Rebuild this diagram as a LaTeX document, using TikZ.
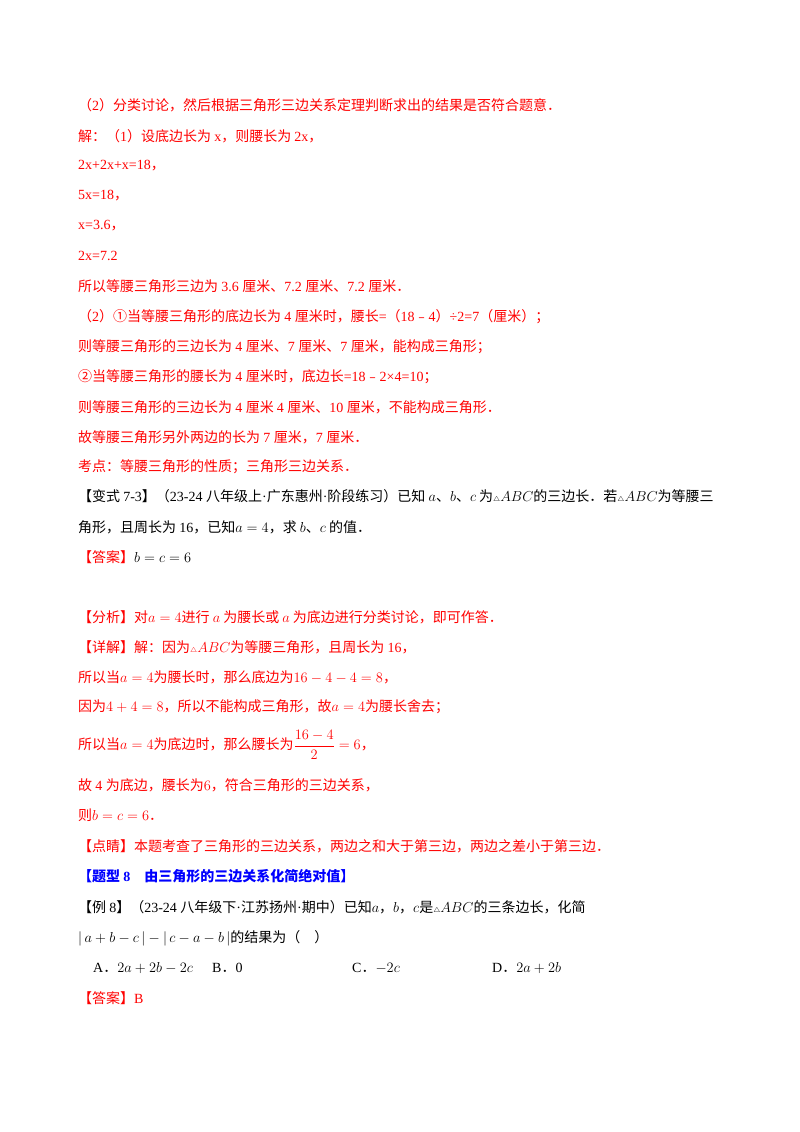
\documentclass[tikz,border=0pt]{standalone}
\usepackage{fontspec}
\setmainfont{Liberation Serif}
\newfontfamily\cjk{Noto Sans CJK SC}
\XeTeXinterchartokenstate=1
\newXeTeXintercharclass\cjkclass
\count255="4E00 \loop \XeTeXcharclass\count255=\cjkclass \ifnum\count255<"9FFF \advance\count255 1 \repeat
\count255="3000 \loop \XeTeXcharclass\count255=\cjkclass \ifnum\count255<"303F \advance\count255 1 \repeat
\count255="FF00 \loop \XeTeXcharclass\count255=\cjkclass \ifnum\count255<"FFEF \advance\count255 1 \repeat
\count255="FE30 \loop \XeTeXcharclass\count255=\cjkclass \ifnum\count255<"FE6F \advance\count255 1 \repeat
\XeTeXcharclass"2460=\cjkclass \XeTeXcharclass"2461=\cjkclass
\XeTeXinterchartoks 0 \cjkclass = {\cjk}
\XeTeXinterchartoks 4095 \cjkclass = {\cjk}
\XeTeXinterchartoks \cjkclass 0 = {\rmfamily}
\XeTeXinterchartoks 4095 0 = {\rmfamily}
\definecolor{rd}{HTML}{FF0000}
\definecolor{bl}{HTML}{0000FF}
\newcommand{\tri}{{\scriptsize$\triangle$}}
\begin{document}
\begin{tikzpicture}[x=1pt,y=-1pt,
  ln/.style={anchor=west,inner sep=0pt,font=\fontsize{14}{16}\selectfont},
  rl/.style={ln,text=rd}]
\useasboundingbox (0,0) rectangle (800,1132);
\fill[white] (0,0) rectangle (800,1132);
\node[rl] (l1) at (78,105) {（2）分类讨论，然后根据三角形三边关系定理判断求出的结果是否符合题意．};
\node[rl] (l2) at (78,136) {解：（1）设底边长为 x，则腰长为 2x，};
\node[rl] (l3) at (78,166) {2x+2x+x=18，};
\node[rl] (l4) at (78,196) {5x=18，};
\node[rl] (l5) at (78,226) {x=3.6，};
\node[rl] (l6) at (78,256) {2x=7.2};
\node[rl] (l7) at (78,286) {所以等腰三角形三边为 3.6 厘米、7.2 厘米、7.2 厘米．};
\node[rl] (l8) at (78,317) {（2）①当等腰三角形的底边长为 4 厘米时，腰长=（18﹣4）÷2=7（厘米）；};
\node[rl] (l9) at (78,347) {则等腰三角形的三边长为 4 厘米、7 厘米、7 厘米，能构成三角形；};
\node[rl] (l10) at (78,377) {②当等腰三角形的腰长为 4 厘米时，底边长=18﹣2×4=10；};
\node[rl] (l11) at (78,407) {则等腰三角形的三边长为 4 厘米 4 厘米、10 厘米，不能构成三角形．};
\node[rl] (l12) at (78,437) {故等腰三角形另外两边的长为 7 厘米，7 厘米．};
\node[rl] (l13) at (78,467) {考点：等腰三角形的性质；三角形三边关系．};
\node[ln] (l14) at (78,496) {【变式 7-3】（23-24 八年级上·广东惠州·阶段练习）已知 $a$、$b$、$c$ 为\tri$ABC$的三边长．若\tri$ABC$为等腰三};
\node[ln] (l15) at (78,527) {角形，且周长为 16，已知$a=4$，求 $b$、$c$ 的值．};
\node[ln] (l16) at (78,557) {\textcolor{rd}{【答案】}$b=c=6$};
\node[rl] (l17) at (78,617) {【分析】对$a=4$进行 $a$ 为腰长或 $a$ 为底边进行分类讨论，即可作答．};
\node[rl] (l18) at (78,647) {【详解】解：因为\tri$ABC$为等腰三角形，且周长为 16，};
\node[rl] (l19) at (78,677) {所以当$a=4$为腰长时，那么底边为$16-4-4=8$，};
\node[rl] (l20) at (78,707) {因为$4+4=8$，所以不能构成三角形，故$a=4$为腰长舍去；};
\node[rl] (l21) at (78,745) {所以当$a=4$为底边时，那么腰长为$\displaystyle\frac{16-4}{2}=6$，};
\node[rl] (l22) at (78,785) {故 4 为底边，腰长为$6$，符合三角形的三边关系，};
\node[rl] (l23) at (78,815) {则$b=c=6$．};
\node[rl] (l24) at (78,846) {【点睛】本题考查了三角形的三边关系，两边之和大于第三边，两边之差小于第三边．};
\node[ln,text=bl,font=\fontsize{14}{16}\selectfont\bfseries] (l25) at (78,876) {【题型 8\quad 由三角形的三边关系化简绝对值】};
\node[ln] (l26) at (78,907) {【例 8】（23-24 八年级下·江苏扬州·期中）已知$a$，$b$，$c$是\tri$ABC$的三条边长，化简};
\node[ln] (l27) at (78,938) {$|\,a+b-c\,|-|\,c-a-b\,|$的结果为（\quad）};
\node[ln] (oA) at (93,968) {A．$2a+2b-2c$};
\node[ln] (oB) at (212,968) {B．0};
\node[ln] (oC) at (352,968) {C．$-2c$};
\node[ln] (oD) at (492,968) {D．$2a+2b$};
\node[rl] (l28) at (78,998) {【答案】B};
\end{tikzpicture}
\end{document}
